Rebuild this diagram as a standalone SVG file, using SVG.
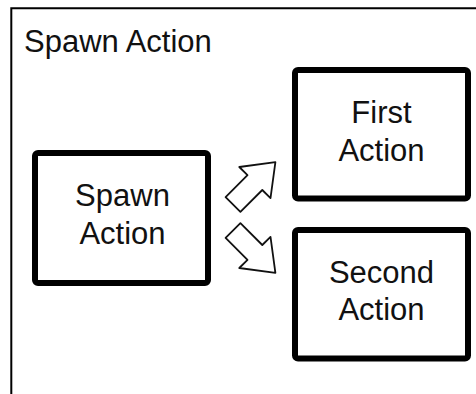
<svg xmlns="http://www.w3.org/2000/svg" width="476" height="394" viewBox="0 0 476 394">
  <style>
    .frame { fill: none; stroke: #000; stroke-width: 2; }
    .box { fill: #fff; stroke: #000; stroke-width: 6; }
    .label { font-family: "Liberation Sans", Arial, sans-serif; font-size: 31px; fill: #111; }
    .mid { text-anchor: middle; }
    .arrow { fill: #fff; stroke: #111; stroke-width: 1.8; stroke-linejoin: round; }
  </style>
  <defs>
    <!-- block arrow pointing up and to the right -->
    <polygon id="block-arrow" points="225.6,197.1 247.5,175.2 239.3,167 275.4,162.1 270.5,198.2 262.3,190 240.4,211.9"/>
  </defs>

  <rect width="476" height="394" fill="#fff"/>

  <g id="frame">
    <path class="frame" d="M11.3,394 V8.3 H476"/>
    <text class="label" x="24" y="52">Spawn Action</text>
  </g>

  <g id="spawn-action">
    <rect class="box" x="35" y="153" width="173" height="130" rx="3"/>
    <text class="label mid" x="122.5" y="206">Spawn</text>
    <text class="label mid" x="122.5" y="243.5">Action</text>
  </g>

  <g id="first-action">
    <rect class="box" x="295" y="70" width="173" height="128.5" rx="3"/>
    <text class="label mid" x="381.5" y="123">First</text>
    <text class="label mid" x="381.5" y="160.5">Action</text>
  </g>

  <g id="second-action">
    <rect class="box" x="295" y="230" width="173" height="128.5" rx="3"/>
    <text class="label mid" x="381.5" y="282.5">Second</text>
    <text class="label mid" x="381.5" y="320">Action</text>
  </g>

  <g id="connectors">
    <use href="#block-arrow" class="arrow"/>
    <use href="#block-arrow" class="arrow" transform="matrix(1,0,0,-1,0,435)"/>
  </g>
</svg>
